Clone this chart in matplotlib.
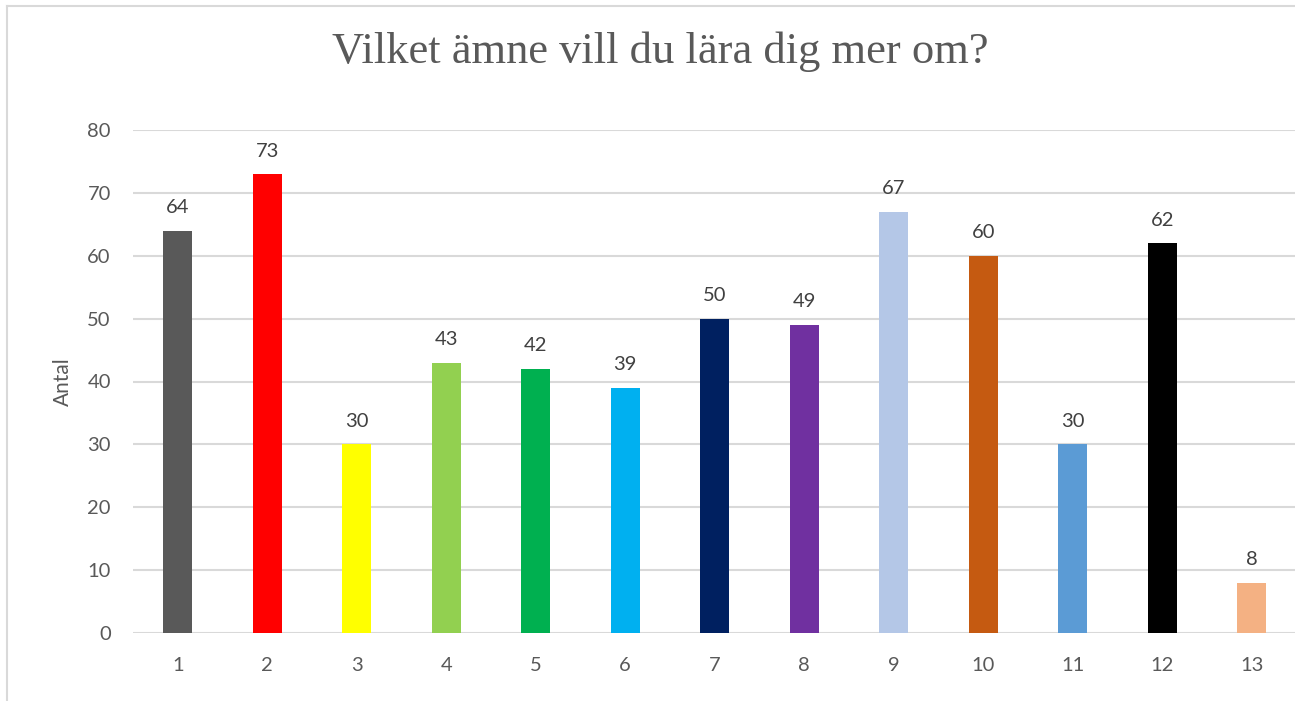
import matplotlib
matplotlib.use("Agg")
import matplotlib.pyplot as plt
from matplotlib.lines import Line2D

categories = ["1", "2", "3", "4", "5", "6", "7", "8", "9", "10", "11", "12", "13"]
values = [64, 73, 30, 43, 42, 39, 50, 49, 67, 60, 30, 62, 8]
colors = ["#595959", "#FF0000", "#FFFF00", "#92D050", "#00B050", "#00B0F0",
          "#002060", "#7030A0", "#B4C7E7", "#C55A11", "#5B9BD5", "#000000", "#F4B183"]
title = "Vilket ämne vill du lära dig mer om?"
ylabel = "Antal"

W, H = 1295, 701
fig = plt.figure(figsize=(W / 100, H / 100), dpi=100)
txt = "#595959"
font = ["Lato", "DejaVu Sans"]

left, right = 133, 1295
bottom, top = 633, 130
ax = fig.add_axes([left / W, 1 - bottom / H, (right - left) / W, (bottom - top) / H])

x = list(range(len(categories)))
ax.bar(x, values, width=0.32, color=colors, zorder=3)
for xi, v in zip(x, values):
    ax.text(xi, v + 2.3, str(v), ha="center", va="bottom", fontsize=14.5,
            color="#404040", family=font)

ax.set_xlim(-0.5, -0.5 + (right - left) / 89.5)
ax.set_ylim(0, 80)
ax.set_yticks(range(0, 81, 10))
ax.set_xticks(x)
ax.set_xticklabels(categories)
ax.grid(axis="y", color="#D9D9D9", linewidth=1.5, zorder=0)
for s in ax.spines.values():
    s.set_visible(False)
ax.tick_params(length=0, labelsize=14.5, labelcolor=txt)
ax.tick_params(axis="x", pad=17)
ax.tick_params(axis="y", pad=16)
for lab in ax.get_xticklabels() + ax.get_yticklabels():
    lab.set_family(font)
ax.set_ylabel(ylabel, fontsize=15, color=txt, family=font)
ax.yaxis.set_label_coords(-0.060, 0.5)
ax.yaxis.label.set_va("center")

fig.text(660 / W, 1 - 52 / H, title, ha="center", va="center",
         fontsize=32, color=txt, family=["Liberation Serif", "DejaVu Serif"])

# figure border (left and top)
fig.add_artist(Line2D([7 / W, 7 / W], [1 - 6 / H, 0], color="#D9D9D9", linewidth=1.5))
fig.add_artist(Line2D([7 / W, 1], [1 - 6 / H, 1 - 6 / H], color="#D9D9D9", linewidth=1.5))

fig.savefig("out.png", dpi=100)
